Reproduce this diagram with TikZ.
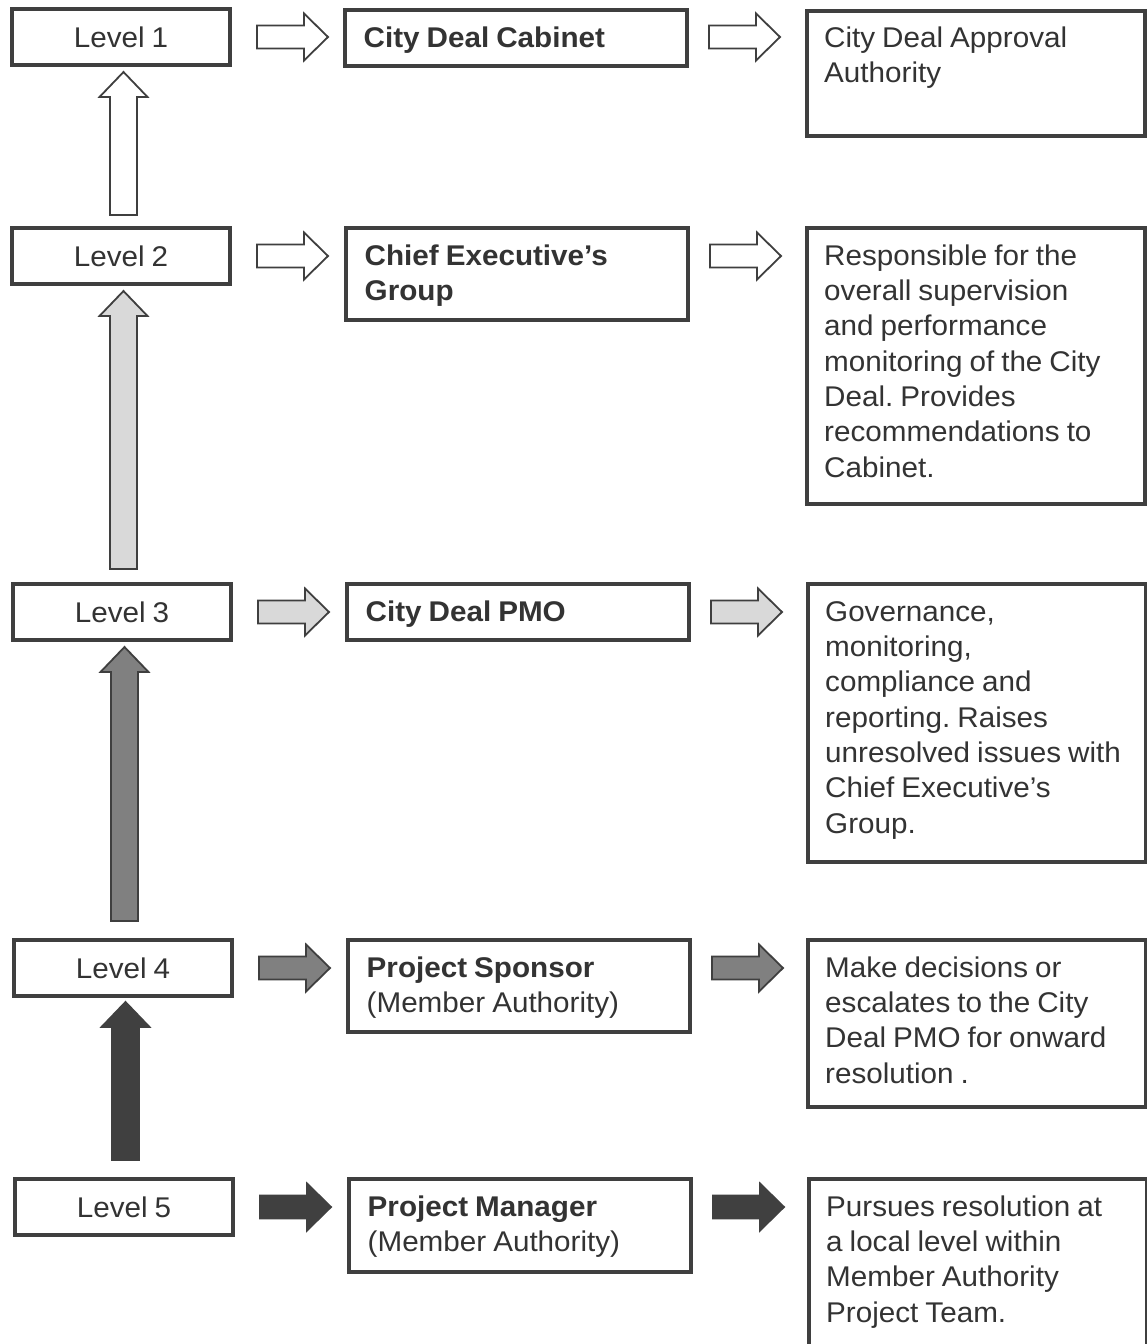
\documentclass[tikz,border=0pt]{standalone}
\usepackage{fontspec}
\setmainfont{Liberation Sans}[FakeStretch=1.04,WordSpace=0.85]
\usetikzlibrary{calc}

\definecolor{ink}{HTML}{333333}
\definecolor{frame}{HTML}{3F3F3F}
\definecolor{tierlight}{HTML}{D9D9D9}
\definecolor{tiermid}{HTML}{808080}
\definecolor{tierdark}{HTML}{404040}

\newcommand\diagfont{\frenchspacing\fontsize{28.5}{35.3}\selectfont}

% block arrow pointing right, starting #2 after the east side of node #1,
% level with the centre of node #5
\newcommand\hblock[5]{%
  \draw[blockarrow,fill=#3,draw=#4]
    ($(#1.east |- #5.center)+(#2,-11.5)$) -- ++(47,0) -- ++(0,-12) -- ++(24,23.5)
    -- ++(-24,23.5) -- ++(0,-12) -- ++(-47,0) -- cycle;}

% block arrow pointing up from node #1 to node #2
\newcommand\vblock[6]{%
  \draw[blockarrow,fill=#5,draw=#6]
    let \p1=($(#2.south)+(2.5,#4)$), \p2=($(#1.north)+(0,-#3)$) in
    (\x1-13.5pt,\y2) -- (\x1-13.5pt,\y1-25pt) -- (\x1-24pt,\y1-25pt)
    -- (\p1) -- (\x1+24pt,\y1-25pt) -- (\x1+13.5pt,\y1-25pt)
    -- (\x1+13.5pt,\y2) -- cycle;}

\begin{document}
\begin{tikzpicture}[
  x=1pt, y=-1pt,
  box/.style={draw=frame, line width=4pt, rectangle, inner sep=0pt,
    outer sep=0pt, anchor=north west},
  levelbox/.style={box, minimum width=218pt, minimum height=56pt,
    text=ink, font=\diagfont},
  midbox/.style={box, minimum width=342pt},
  notebox/.style={box, minimum width=338pt},
  note/.style={anchor=north west, inner sep=0pt, align=left, text=ink,
    font=\diagfont},
  blockarrow/.style={line width=1.8pt, line join=miter},
]
\fill[white] (0,0) rectangle (1147,1344);
\useasboundingbox (0,0) rectangle (1147,1344);
\clip (0,0) rectangle (1147,1344);

% level column
\node[levelbox] (l1) at (12,9)    {Level 1};
\node[levelbox] (l2) at (12,228)  {Level 2};
\node[levelbox] (l3) at (13,584)  {Level 3};
\node[levelbox] (l4) at (14,940)  {Level 4};
\node[levelbox] (l5) at (15,1179) {Level 5};

% body column
\node[midbox, minimum height=56pt] (m1) at (345,10)   {};
\node[midbox, minimum height=92pt] (m2) at (346,228)  {};
\node[midbox, minimum height=56pt] (m3) at (347,584)  {};
\node[midbox, minimum height=92pt] (m4) at (348,940)  {};
\node[midbox, minimum height=93pt] (m5) at (349,1179) {};

\node[note] (m1t) at ($(m1.north west)+(18.5,12.3)$) {\strut\textbf{City Deal Cabinet}};
\node[note] (m2t) at ($(m2.north west)+(18.5,12.3)$) {\strut\textbf{Chief Executive's}\\\textbf{Group}};
\node[note] (m3t) at ($(m3.north west)+(18.5,12.3)$) {\strut\textbf{City Deal PMO}};
\node[note] (m4t) at ($(m4.north west)+(18.5,12.3)$) {\strut\textbf{Project Sponsor}\\(Member Authority)};
\node[note] (m5t) at ($(m5.north west)+(18.5,12.3)$) {\strut\textbf{Project Manager}\\(Member Authority)};

% role column
\node[notebox, minimum height=125pt] (r1) at (807,11)   {};
\node[notebox, minimum height=276pt] (r2) at (807,228)  {};
\node[notebox, minimum height=278pt] (r3) at (808,584)  {};
\node[notebox, minimum height=167pt] (r4) at (808,940)  {};
\node[notebox, minimum height=180pt] (r5) at (809,1179) {};

\node[note] (r1t) at ($(r1.north west)+(17,11.3)$) {\strut City Deal Approval\\Authority};
\node[note] (r2t) at ($(r2.north west)+(17,12.3)$) {\strut Responsible for the\\overall supervision\\and performance\\monitoring of the City\\Deal. Provides\\recommendations to\\Cabinet.};
\node[note] (r3t) at ($(r3.north west)+(17,12.3)$) {\strut Governance,\\monitoring,\\compliance and\\reporting. Raises\\unresolved issues with\\Chief Executive's\\Group.};
\node[note] (r4t) at ($(r4.north west)+(17,12.3)$) {\strut Make decisions or\\escalates to the City\\Deal PMO for onward\\resolution .};
\node[note] (r5t) at ($(r5.north west)+(17,12.3)$) {\strut Pursues resolution at\\a local level within\\Member Authority\\Project Team.};

% horizontal block arrows
\hblock{l1}{27}{white}{frame}{l1}
\hblock{m1}{22}{white}{frame}{l1}
\hblock{l2}{27}{white}{frame}{l2}
\hblock{m2}{22}{white}{frame}{l2}
\hblock{l3}{27}{tierlight}{frame}{l3}
\hblock{m3}{22}{tierlight}{frame}{l3}
\hblock{l4}{27}{tiermid}{frame}{l4}
\hblock{m4}{22}{tiermid}{frame}{l4}
\hblock{l5}{27}{tierdark}{tierdark}{l5}
\hblock{m5}{22}{tierdark}{tierdark}{l5}

% escalation arrows between levels
\vblock{l2}{l1}{13}{7}{white}{frame}
\vblock{l3}{l2}{15}{7}{tierlight}{frame}
\vblock{l4}{l3}{19}{7}{tiermid}{frame}
\vblock{l5}{l4}{19}{6}{tierdark}{tierdark}
\end{tikzpicture}
\end{document}
